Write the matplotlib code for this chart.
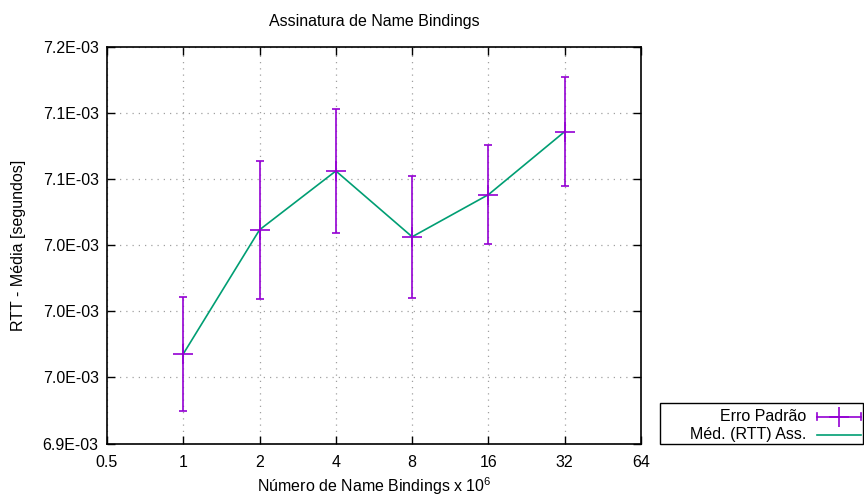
import matplotlib
matplotlib.use("Agg")
import matplotlib.pyplot as plt
from matplotlib.patches import Rectangle
from matplotlib.lines import Line2D
from matplotlib.ticker import FixedLocator, NullLocator

plt.rcParams['font.family'] = ['Liberation Sans', 'DejaVu Sans']
plt.rcParams['mathtext.fontset'] = 'custom'
plt.rcParams['mathtext.rm'] = 'Liberation Sans'
plt.rcParams['mathtext.it'] = 'Liberation Sans'

# Data
bindings = [1, 2, 4, 8, 16, 32]
rtt_mean = [6.9678e-3, 7.0617e-3, 7.1062e-3, 7.0564e-3, 7.0883e-3, 7.1360e-3]
rtt_err = [0.0434e-3, 0.0520e-3, 0.0467e-3, 0.0460e-3, 0.0373e-3, 0.0413e-3]
x_ticks = [0.5, 1, 2, 4, 8, 16, 32, 64]
x_tick_labels = ['0.5', '1', '2', '4', '8', '16', '32', '64']
y_ticks = [6.90e-3, 6.95e-3, 7.00e-3, 7.05e-3, 7.10e-3, 7.15e-3, 7.20e-3]
y_tick_labels = ['6.9E-03', '7.0E-03', '7.0E-03', '7.0E-03', '7.1E-03', '7.1E-03', '7.2E-03']

W, H = 864, 497
FS = 11.5
fig = plt.figure(figsize=(W / 100, H / 100), dpi=100)
ax = fig.add_axes([107 / W, 1 - 443.5 / H, (641 - 107) / W, (443.5 - 47) / H])

purple = '#9400D3'
green = '#009E73'

ax.plot(bindings, rtt_mean, color=green, lw=1.2, zorder=3)
ax.errorbar(bindings, rtt_mean, yerr=rtt_err, fmt='+', color=purple,
            ecolor=purple, elinewidth=1.2, capsize=3.2, capthick=1.2,
            markersize=14, markeredgewidth=1.2, zorder=4)

ax.set_xscale('log', base=2)
ax.set_xlim(0.5, 64)
ax.set_ylim(6.90e-3, 7.20e-3)
ax.xaxis.set_major_locator(FixedLocator(x_ticks))
ax.xaxis.set_minor_locator(NullLocator())
ax.set_xticklabels(x_tick_labels)
ax.yaxis.set_major_locator(FixedLocator(y_ticks))
ax.set_yticklabels(y_tick_labels)

ax.tick_params(axis='both', which='major', direction='in', length=6, width=1,
               top=True, right=True, labelsize=FS, pad=6, colors='black')
ax.tick_params(axis='x', pad=8)
ax.grid(True, which='major', color='#a0a0a0', linestyle=(0, (1, 4)), lw=0.9)
for s in ax.spines.values():
    s.set_linewidth(1.2)

ax.set_title('Assinatura de Name Bindings', fontsize=FS, pad=15)
ax.set_xlabel('Número de Name Bindings x 10$^{6}$', fontsize=FS, labelpad=4)
ax.set_ylabel('RTT - Média [segundos]', fontsize=FS, labelpad=12)

# Legend drawn manually outside the plot area (gnuplot style)
def fx(px):
    return px / W

def fy(py):
    return 1 - py / H

fig.patches.append(Rectangle((fx(660), fy(443.5)), fx(863) - fx(660), fy(403) - fy(443.5),
                             transform=fig.transFigure, fill=False, lw=1, edgecolor='black'))
fig.text(fx(806), fy(416.5), 'Erro Padrão', ha='right', va='center', fontsize=FS)
fig.text(fx(806), fy(435), 'Méd. (RTT) Ass.', ha='right', va='center', fontsize=FS)
# error-bar sample
fig.lines.append(Line2D([fx(817), fx(861)], [fy(416.5), fy(416.5)], transform=fig.transFigure,
                        color=purple, lw=1.2))
for xx in (817, 861):
    fig.lines.append(Line2D([fx(xx), fx(xx)], [fy(413), fy(420)], transform=fig.transFigure,
                            color=purple, lw=1.2))
fig.lines.append(Line2D([fx(839)], [fy(416.5)], transform=fig.transFigure, color=purple,
                        marker='+', markersize=14, markeredgewidth=1.2, linestyle='none'))
fig.lines.append(Line2D([fx(817), fx(861)], [fy(435), fy(435)], transform=fig.transFigure,
                        color=green, lw=1.2))

fig.savefig('out.png', dpi=100)
